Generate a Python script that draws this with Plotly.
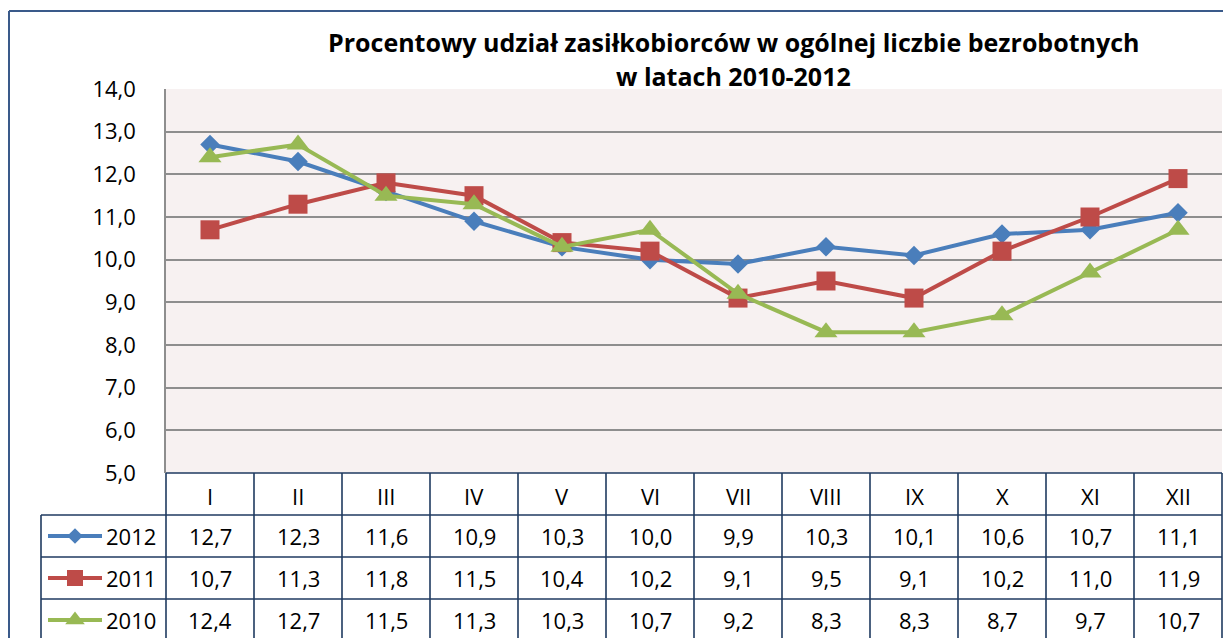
import plotly.graph_objects as go

# ---- data ----
months = ["I", "II", "III", "IV", "V", "VI", "VII", "VIII", "IX", "X", "XI", "XII"]
years = ["2012", "2011", "2010"]
v2012 = [12.7, 12.3, 11.6, 10.9, 10.3, 10.0, 9.9, 10.3, 10.1, 10.6, 10.7, 11.1]
v2011 = [10.7, 11.3, 11.8, 11.5, 10.4, 10.2, 9.1, 9.5, 9.1, 10.2, 11.0, 11.9]
v2010 = [12.4, 12.7, 11.5, 11.3, 10.3, 10.7, 9.2, 8.3, 8.3, 8.7, 9.7, 10.7]
y_ticks = [5, 6, 7, 8, 9, 10, 11, 12, 13, 14]
title_line1 = "Procentowy udział zasiłkobiorców w ogólnej liczbie bezrobotnych"
title_line2 = "w latach 2010-2012"

series_values = [v2012, v2011, v2010]
colors = ["#4A7EBB", "#BE4B48", "#98B954"]
symbols = ["diamond", "square", "triangle-up"]
msizes = [15, 19, 20]
key_msizes = [12, 16, 17]

# page offset of the plot div (default body margin) compensated here
OFF = 8
W, H = 1231 - OFF, 638 - OFF
FONT = "Open Sans"


def px(x):
    return (x - OFF) / W


def py(y):
    return 1 - (y - OFF) / H


PL, PR, PT, PB = 166, 1222, 89, 473
ROW_TOP = [515, 557, 599]
ROW_H = 42
PAGE_BOTTOM = 650

fig = go.Figure()

for name, vals, c, s, ms in zip(years, series_values, colors, symbols, msizes):
    fig.add_trace(go.Scatter(
        x=months, y=vals, name=name, mode="lines+markers",
        line=dict(color=c, width=4),
        marker=dict(symbol=s, size=ms, color=c, line=dict(width=0)),
        cliponaxis=False, showlegend=False, xaxis="x", yaxis="y",
    ))

# legend keys inside the data table
for i, (name, c, s, ms) in enumerate(zip(years, colors, symbols, key_msizes)):
    fig.add_trace(go.Scatter(
        x=[0, 2], y=[i, i], mode="lines", line=dict(color=c, width=4),
        showlegend=False, xaxis="x2", yaxis="y2", hoverinfo="skip", cliponaxis=False,
    ))
    fig.add_trace(go.Scatter(
        x=[1], y=[i], mode="markers", marker=dict(symbol=s, size=ms, color=c),
        showlegend=False, xaxis="x2", yaxis="y2", hoverinfo="skip", cliponaxis=False,
    ))

shapes = []
TABLE_LINE = dict(color="#1F3A60", width=1.6)
BORDER = dict(color="#3A5A8A", width=2)
# plot area background (below grid)
shapes.append(dict(type="rect", xref="paper", yref="paper", x0=px(PL), x1=px(PR),
                   y0=py(PB), y1=py(PT), fillcolor="#F7F1F1", line=dict(width=0), layer="below"))
# outer chart border
shapes.append(dict(type="line", xref="paper", yref="paper", x0=px(9), x1=px(1240),
                   y0=py(11), y1=py(11), line=BORDER))
shapes.append(dict(type="line", xref="paper", yref="paper", x0=px(9), x1=px(9),
                   y0=py(11), y1=py(PAGE_BOTTOM), line=BORDER))
# table horizontal lines
shapes.append(dict(type="line", xref="paper", yref="paper", x0=px(PL), x1=px(PR),
                   y0=py(PB), y1=py(PB), line=TABLE_LINE, layer="above"))
for yt in ROW_TOP:
    shapes.append(dict(type="line", xref="paper", yref="paper", x0=px(41), x1=px(PR),
                       y0=py(yt), y1=py(yt), line=TABLE_LINE, layer="above"))
# table vertical lines
cw = (PR - PL) / len(months)
for k in range(len(months) + 1):
    xk = PL + k * cw
    shapes.append(dict(type="line", xref="paper", yref="paper", x0=px(xk), x1=px(xk),
                       y0=py(PB), y1=py(PAGE_BOTTOM), line=TABLE_LINE, layer="above"))
shapes.append(dict(type="line", xref="paper", yref="paper", x0=px(41), x1=px(41),
                   y0=py(ROW_TOP[0]), y1=py(PAGE_BOTTOM), line=TABLE_LINE, layer="above"))

annotations = []
TF = dict(family=FONT, size=22, color="black")
# header
for m in months:
    annotations.append(dict(x=m, xref="x", y=py(PB + 23), yref="paper", text=m,
                            showarrow=False, font=TF, xanchor="center", yanchor="middle"))
# values
for r, (name, vals) in enumerate(zip(years, series_values)):
    yc = py(ROW_TOP[r] + ROW_H / 2)
    for m, v in zip(months, vals):
        annotations.append(dict(x=m, xref="x", y=yc, yref="paper",
                                text=f"{v:.1f}".replace(".", ","), showarrow=False,
                                font=TF, xanchor="center", yanchor="middle"))
    annotations.append(dict(x=px(104), xref="paper", y=yc, yref="paper", text=name,
                            showarrow=False, font=TF, xanchor="left", yanchor="middle"))
# title
TITLE_FONT = dict(family=FONT, size=25, color="black", weight="bold")
annotations.append(dict(x=px(733), y=py(42), xref="paper", yref="paper", text=title_line1,
                        showarrow=False, font=TITLE_FONT, xanchor="center", yanchor="middle"))
annotations.append(dict(x=px(733), y=py(76), xref="paper", yref="paper", text=title_line2,
                        showarrow=False, font=TITLE_FONT, xanchor="center", yanchor="middle"))

fig.update_layout(
    width=W, height=H,
    margin=dict(l=0, r=0, t=0, b=0, pad=0, autoexpand=False),
    paper_bgcolor="white",
    plot_bgcolor="rgba(0,0,0,0)",
    separators=", ",
    showlegend=False,
    xaxis=dict(domain=[px(PL), px(PR)], range=[-0.5, 11.5], showticklabels=False,
               showgrid=False, zeroline=False, showline=False, fixedrange=True,
               automargin=False),
    yaxis=dict(domain=[py(PB), py(PT)], range=[5, 14], tickvals=y_ticks, tickformat=".1f",
               showgrid=True, gridcolor="#8E8E8E", gridwidth=1.5, zeroline=False,
               showline=True, linecolor="#8E8E8E", linewidth=1.5, ticks="",
               ticklabelstandoff=24, automargin=False,
               tickfont=dict(family=FONT, size=22, color="black")),
    xaxis2=dict(domain=[px(48), px(102)], range=[0, 2], visible=False, anchor="y2"),
    yaxis2=dict(domain=[0, py(ROW_TOP[0])],
                range=[2 + (638 - ROW_TOP[2] - ROW_H / 2 - OFF) / ROW_H + OFF / ROW_H, -0.5],
                visible=False, anchor="x2"),
    shapes=shapes,
    annotations=annotations,
)

fig.write_html("out.html")
